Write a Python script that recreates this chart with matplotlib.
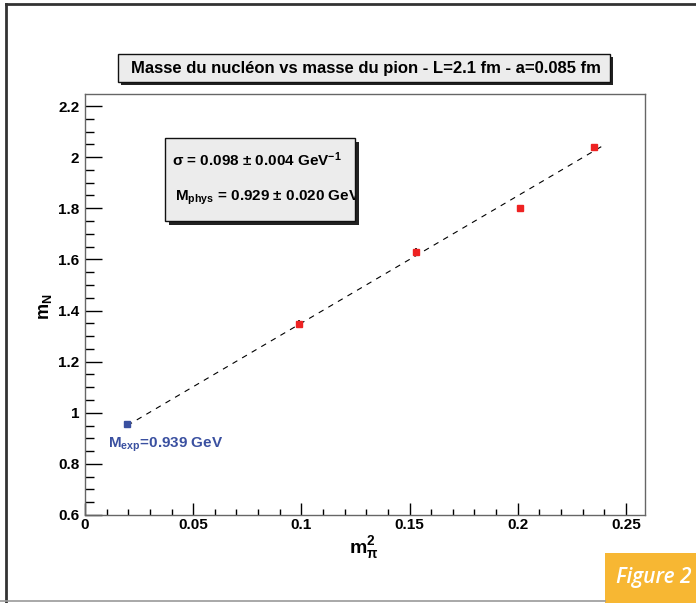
import matplotlib
matplotlib.use('Agg')
import matplotlib.pyplot as plt
from matplotlib.patches import Rectangle
from matplotlib.lines import Line2D
from matplotlib.ticker import MultipleLocator, FuncFormatter

plt.rcParams['font.family'] = ['Liberation Sans', 'DejaVu Sans']
plt.rcParams['font.weight'] = 'bold'
plt.rcParams['mathtext.fontset'] = 'custom'
plt.rcParams['mathtext.rm'] = 'Liberation Sans:bold'
plt.rcParams['mathtext.it'] = 'Liberation Sans:bold'
plt.rcParams['mathtext.bf'] = 'Liberation Sans:bold'

# data
m_pi2 = [0.0988, 0.1529, 0.2010, 0.2353]
m_N = [1.347, 1.629, 1.801, 2.040]
m_N_err = [0.016, 0.016, 0.006, 0.008]
phys_x = [0.0195]
phys_y = [0.955]
fit_x = [0.0195, 0.2400]
fit_y = [0.950, 2.048]

title = 'Masse du nucléon vs masse du pion - L=2.1 fm - a=0.085 fm'
sigma_txt = r'$\sigma$ = 0.098 $\pm$ 0.004 GeV$^{-1}$'
mphys_txt = r'M$_{\mathrm{phys}}$ = 0.929 $\pm$ 0.020 GeV'
mexp_txt = r'M$_{\mathrm{exp}}$=0.939 GeV'

W, H = 696, 603
fig = plt.figure(figsize=(W / 100, H / 100), dpi=100)


def fx(x):
    return x / W


def fy(y):
    return 1 - y / H


def box(x0, y0, x1, y1, shadow):
    fig.add_artist(Rectangle((fx(x0 + shadow), fy(y1 + shadow)), fx(x1 - x0), (y1 - y0) / H,
                             transform=fig.transFigure, facecolor='#222222', edgecolor='none'))
    r = Rectangle((fx(x0), fy(y1)), fx(x1 - x0), (y1 - y0) / H,
                  transform=fig.transFigure, facecolor='#ececec', edgecolor='#111111', lw=1.0)
    fig.add_artist(r)
    return r


# outer page frame
fig.add_artist(Line2D([fx(6), 1], [fy(4), fy(4)], transform=fig.transFigure, color='#333333', lw=2))
fig.add_artist(Line2D([fx(6), fx(6)], [fy(4), 0], transform=fig.transFigure, color='#333333', lw=2))
fig.add_artist(Line2D([0, fx(605)], [fy(601), fy(601)], transform=fig.transFigure, color='#999999', lw=1.2))

ax = fig.add_axes([fx(85), fy(515), fx(645 - 85), (515 - 94) / H])
ax.plot(fit_x, fit_y, color='black', lw=0.8, ls=(0, (5, 5)))
ax.errorbar(m_pi2, m_N, yerr=m_N_err, fmt='s', color='#ee2222', ms=4.5,
            ecolor='black', elinewidth=1.2, capsize=0, zorder=3)
ax.plot(phys_x, phys_y, 's', color='#3a50a0', ms=4.5, zorder=3)
ax.text(0.0106, 0.874, mexp_txt, color='#3a50a0', fontsize=11, ha='left', va='center')

ax.set_xlim(0, 0.2588)
ax.set_ylim(0.6, 2.247)
ax.xaxis.set_major_locator(MultipleLocator(0.05))
ax.xaxis.set_minor_locator(MultipleLocator(0.01))
ax.yaxis.set_major_locator(MultipleLocator(0.2))
ax.yaxis.set_minor_locator(MultipleLocator(0.05))
fmt = FuncFormatter(lambda v, p: '%g' % round(v, 3))
ax.xaxis.set_major_formatter(fmt)
ax.yaxis.set_major_formatter(fmt)
ax.tick_params(axis='x', which='major', direction='in', length=8.6, width=1, labelsize=11, pad=2.5)
ax.tick_params(axis='x', which='minor', direction='in', length=4.3, width=1)
ax.tick_params(axis='y', which='major', direction='in', length=12, width=1, labelsize=11, pad=4)
ax.tick_params(axis='y', which='minor', direction='in', length=6.5, width=1)
for s in ax.spines.values():
    s.set_color('#666666')
    s.set_linewidth(1)

# title box
box(118, 54, 610, 82, 3)
fig.text(fx(366), fy(68.5), title, ha='center', va='center', fontsize=12)

# fit result box
rb = box(165, 138, 355, 221, 4)
fig.text(fx(172), fy(160), sigma_txt, ha='left', va='center', fontsize=11)
t = fig.text(fx(175), fy(198), mphys_txt, ha='left', va='center', fontsize=11)
t.set_clip_path(rb)

# axis labels
fig.text(fx(45), fy(307), r'm$_{\mathrm{N}}$', rotation=90, ha='center', va='center', fontsize=13)
fig.text(fx(364), fy(548), r'm$_{\pi}^{2}$', ha='center', va='center', fontsize=14)

# figure tag
fig.add_artist(Rectangle((fx(605), 0), fx(91), 50 / H, transform=fig.transFigure,
                         facecolor='#f7b733', edgecolor='none'))
fig.text(fx(654), fy(578), 'Figure 2', color='white', fontsize=15, style='italic',
         family='Open Sans', weight='semibold', ha='center', va='center')

fig.savefig('out.png', dpi=100)
